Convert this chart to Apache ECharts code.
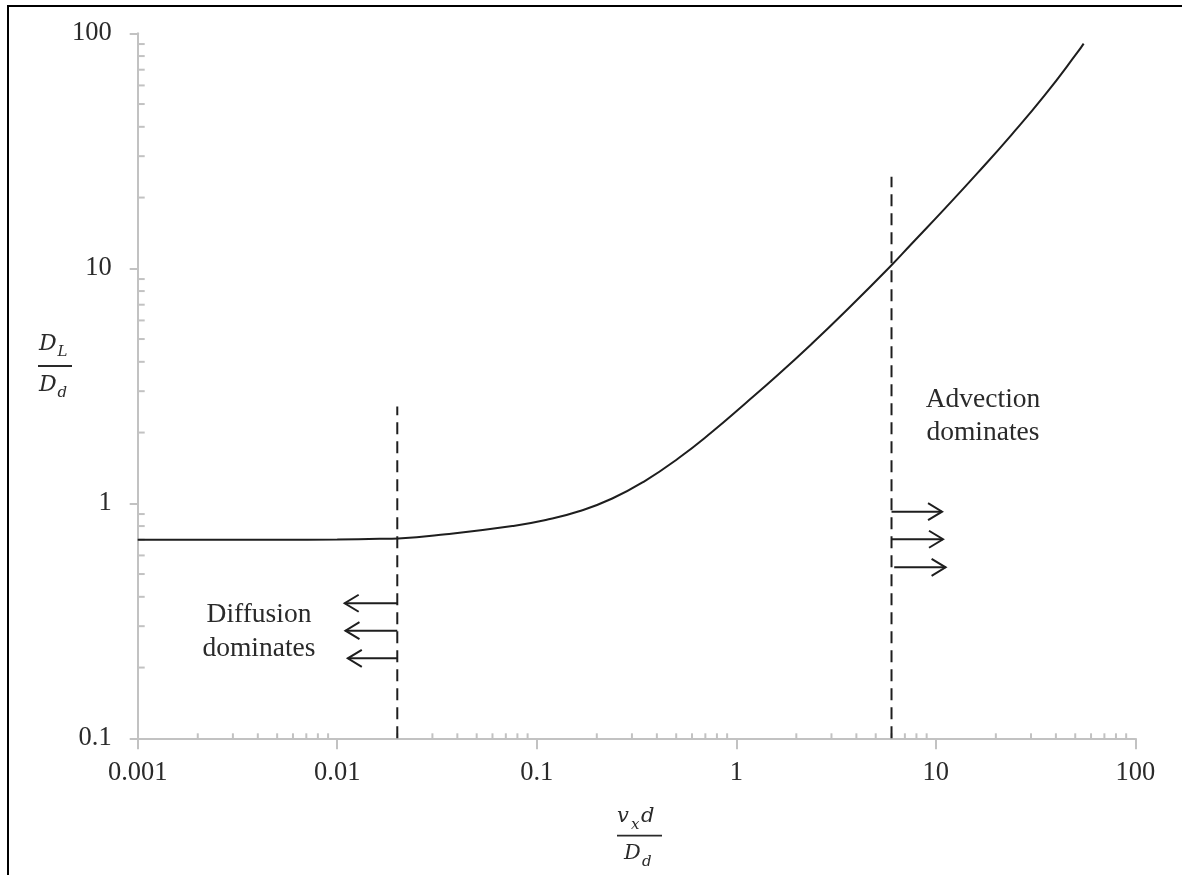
<!DOCTYPE html>
<html><head><meta charset="utf-8">
<script src="https://cdn.jsdelivr.net/npm/echarts@6.0.0/dist/echarts.min.js"></script>
<style>html,body{margin:0;padding:0;background:#fff}#c{width:1182px;height:875px}</style>
</head><body><div id="c"></div>
<script>
// ---- data ----
const xTickValues = [0.001, 0.01, 0.1, 1, 10, 100];
const xTickLabels = ['0.001', '0.01', '0.1', '1', '10', '100'];
const yTickValues = [0.1, 1, 10, 100];
const yTickLabels = ['0.1', '1', '10', '100'];
const minorMantissas = [2, 3, 4, 5, 6, 7, 8, 9];
const xDecades = [0.001, 0.01, 0.1, 1, 10];
const yDecades = [0.1, 1, 10];

const curveX = [0.001, 0.002, 0.005, 0.01, 0.0163, 0.0202, 0.0351, 0.0755, 0.111, 0.163, 0.239, 0.351, 0.515, 0.755, 1.11, 1.63, 2.39, 3.51, 5.93, 7.55, 11.1, 16.3, 23.9, 35.1, 51.5, 55.1];
const curveY = [0.70, 0.70, 0.70, 0.702, 0.706, 0.709, 0.738, 0.80, 0.849, 0.925, 1.048, 1.25, 1.559, 2.011, 2.659, 3.539, 4.771, 6.53, 10.2, 12.69, 17.95, 25.59, 36.9, 54.4, 83.3, 90.4];

const diffusionLineX = [0.02, 0.02];
const diffusionLineY = [0.1, 2.58];
const advectionLineX = [6, 6];
const advectionLineY = [0.1, 24.5];

const leftArrowTail = [0.02, 0.02, 0.02];
const leftArrowTip = [0.0109, 0.011, 0.0113];
const leftArrowY = [0.3755, 0.287, 0.219];
const rightArrowTail = [6, 6, 6.19];
const rightArrowTip = [10.75, 10.87, 11.2];
const rightArrowY = [0.921, 0.703, 0.534];

// ---- build ----
const zip = (a, b) => a.map((v, i) => [v, b[i]]);
const xMinor = [];
xDecades.forEach(d => minorMantissas.forEach(m => xMinor.push([m * d, yTickValues[0]])));
const yMinor = [];
yDecades.forEach(d => minorMantissas.forEach(m => yMinor.push([xTickValues[0], m * d])));
const arrows = [];
leftArrowY.forEach((y, i) => arrows.push([leftArrowTail[i], y, leftArrowTip[i]]));
rightArrowY.forEach((y, i) => arrows.push([rightArrowTail[i], y, rightArrowTip[i]]));

function nearestLabel(vals, labels, v) {
  let best = 0, bd = Infinity;
  vals.forEach((t, i) => { const d = Math.abs(Math.log10(t) - Math.log10(v)); if (d < bd) { bd = d; best = i; } });
  return labels[best];
}

const FONT = '"Liberation Serif", "Times New Roman", serif';
const MATH = '"DejaVu Serif", serif';
const AX = '#c2c2c2';
const INK = '#1e1e1e';
const TXT = '#2a2a2a';

const chart = echarts.init(document.getElementById('c'), null, {renderer: 'canvas'});

function tickSeries(data, dir) {
  return {
    type: 'custom', silent: true, z: 1, data: data,
    renderItem: function (params, api) {
      const p = api.coord([api.value(0), api.value(1)]);
      const shape = dir === 'x'
        ? {x1: p[0], y1: p[1], x2: p[0], y2: p[1] - 5}
        : {x1: p[0], y1: p[1], x2: p[0] + 7, y2: p[1]};
      return {type: 'line', shape: shape, style: {stroke: AX, lineWidth: 2}};
    }
  };
}

function t(text, x, y, size) {
  return {type: 'text', x: x, y: y, silent: true, style: {
    text: text, fill: TXT, align: 'left', verticalAlign: 'middle',
    font: 'italic ' + size + 'px ' + MATH }};
}
function bar(x1, x2, y) {
  return {type: 'line', silent: true, shape: {x1: x1, y1: y, x2: x2, y2: y}, style: {stroke: TXT, lineWidth: 1.8}};
}

const option = {
  animation: false,
  backgroundColor: '#fff',
  grid: {left: 137.7, right: 46.7, top: 33.3, bottom: 136.7, outerBoundsMode: 'none'},
  xAxis: {
    type: 'log', logBase: 10, min: 0.001, max: 100,
    axisLine: {show: true, lineStyle: {color: AX, width: 2}},
    axisTick: {show: true, inside: false, length: 11, lineStyle: {color: AX, width: 2}},
    minorTick: {show: false},
    splitLine: {show: false},
    axisLabel: {margin: 21, fontFamily: FONT, fontSize: 26.5, color: TXT, showMinLabel: true, showMaxLabel: true,
      formatter: v => nearestLabel(xTickValues, xTickLabels, v)}
  },
  yAxis: {
    type: 'log', logBase: 10, min: 0.1, max: 100,
    axisLine: {show: true, lineStyle: {color: AX, width: 2}},
    axisTick: {show: true, inside: false, length: 8, lineStyle: {color: AX, width: 2}},
    minorTick: {show: false},
    splitLine: {show: false},
    axisLabel: {margin: 26, fontFamily: FONT, fontSize: 26.5, color: TXT, showMinLabel: true, showMaxLabel: true,
      formatter: v => nearestLabel(yTickValues, yTickLabels, v)}
  },
  series: [
    tickSeries(xMinor, 'x'),
    tickSeries(yMinor, 'y'),
    {type: 'line', data: zip(curveX, curveY), smooth: 0.5, showSymbol: false, silent: true, z: 3,
      lineStyle: {color: INK, width: 2}},
    {type: 'line', data: zip(diffusionLineX, diffusionLineY), showSymbol: false, silent: true, z: 3,
      lineStyle: {color: INK, width: 2, type: [12, 7]}},
    {type: 'line', data: zip(advectionLineX, advectionLineY), showSymbol: false, silent: true, z: 3,
      lineStyle: {color: INK, width: 2, type: [12, 7]}},
    {type: 'custom', silent: true, z: 4, data: arrows,
      renderItem: function (params, api) {
        const a = api.coord([api.value(0), api.value(1)]);
        const b = api.coord([api.value(2), api.value(1)]);
        const d = b[0] > a[0] ? 1 : -1;
        const st = {stroke: INK, lineWidth: 2, fill: null};
        return {type: 'group', children: [
          {type: 'line', shape: {x1: a[0], y1: a[1], x2: b[0], y2: b[1]}, style: st},
          {type: 'polyline', shape: {points: [[b[0] - d * 14, b[1] - 8.5], [b[0], b[1]], [b[0] - d * 14, b[1] + 8.5]]}, style: st}
        ]};
      }}
  ],
  graphic: [
    {type: 'line', silent: true, shape: {x1: 8, y1: 6, x2: 8, y2: 880}, style: {stroke: '#000', lineWidth: 2}},
    {type: 'line', silent: true, shape: {x1: 7, y1: 6, x2: 1190, y2: 6}, style: {stroke: '#000', lineWidth: 2}},
    {type: 'text', x: 259, y: 632, silent: true, style: {text: 'Diffusion\ndominates', fill: TXT, align: 'center',
      verticalAlign: 'middle', lineHeight: 34, font: '27.5px ' + FONT}},
    {type: 'text', x: 983, y: 416, silent: true, style: {text: 'Advection\ndominates', fill: TXT, align: 'center',
      verticalAlign: 'middle', lineHeight: 33, font: '27.5px ' + FONT}},
    // y axis title  D_L / D_d
    t('D', 39, 344, 22), t('L', 57.5, 352, 15), bar(38, 72, 366),
    t('D', 39, 385, 22), t('d', 57.5, 393, 15),
    // x axis title  v_x d / D_d
    t('v', 617, 817, 21), t('x', 631, 825, 15), t('d', 641, 817, 21), bar(617, 662, 835.7),
    t('D', 624, 854, 21), t('d', 642, 862, 15)
  ]
};
chart.setOption(option);
</script>
</body></html>
